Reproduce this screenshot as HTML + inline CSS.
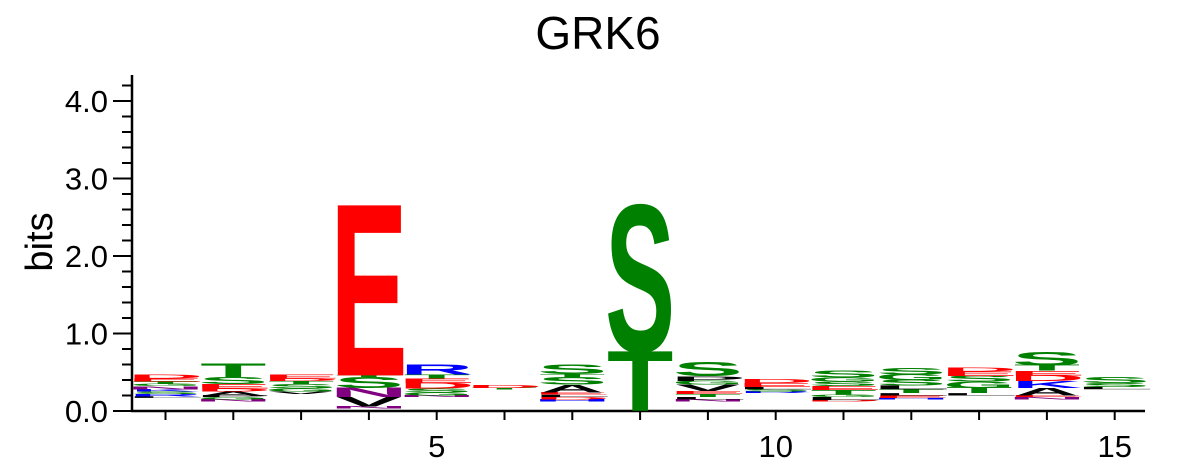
<!DOCTYPE html>
<html><head><meta charset="utf-8"><style>
html,body{margin:0;padding:0;background:#fff;}
svg{display:block;font-family:"Liberation Sans",Arial,sans-serif;}
</style></head><body>
<svg id="chart" width="1196" height="471" viewBox="0 0 1196 471">
<text x="598" y="49" font-size="46" text-anchor="middle">GRK6</text>
<text transform="translate(52,242) rotate(-90)" font-size="38" text-anchor="middle">bits</text>
<g id="axes"></g>
<g id="logo"></g>
</svg>
<script>
const positions = [1,2,3,4,5,6,7,8,9,10,11,12,13,14,15];
const minorBits = [0.17,0.12,0.22,0.03,0.18,0.28,0.12,0,0.12,0.23,0.12,0.15,0.2,0.15,0.28];
const stackLetters = [
 ["L","R","S","K","N","G","T","E","D"],
 ["N","G","P","A","D","E","S","T"],
 ["V","G","S","T","D","E"],
 ["N","V","N","S","T","E"],
 ["N","G","S","D","E","T","R"],
 ["T","D"],
 ["H","D","L","E","A","S","T","S"],
 ["T","S"],
 ["N","L","T","E","V","G","P","S"],
 ["R","S","L","E","D"],
 ["D","L","G","T","E","S","G","S"],
 ["H","E","L","T","L","S","G","S"],
 ["L","T","G","S","E","D"],
 ["N","E","A","K","D","E","T","S"],
 ["L","S","S"]
];
const stackBits = [
 [0.02,0.03,0.03,0.03,0.04,0.03,0.03,0.04,0.05],
 [0.03,0.03,0.02,0.05,0.04,0.06,0.09,0.17],
 [0.03,0.04,0.06,0.04,0.03,0.05],
 [0.03,0.12,0.12,0.14,0.02,2.20],
 [0.02,0.04,0.05,0.07,0.06,0.05,0.13],
 [0.02,0.04],
 [0.03,0.03,0.03,0.03,0.10,0.10,0.04,0.12],
 [0.77,1.88],
 [0.03,0.03,0.04,0.04,0.08,0.05,0.06,0.18],
 [0.02,0.03,0.03,0.05,0.05],
 [0.02,0.04,0.03,0.06,0.05,0.06,0.05,0.09],
 [0.02,0.03,0.03,0.05,0.05,0.07,0.07,0.08],
 [0.03,0.07,0.08,0.07,0.06,0.05],
 [0.03,0.02,0.10,0.09,0.07,0.06,0.07,0.17],
 [0.03,0.05,0.07]
];
const yTicks = [0,1,2,3,4];
const yTickLabels = ["0.0","1.0","2.0","3.0","4.0"];
const xTicks = [5,10,15];

const NS="http://www.w3.org/2000/svg";
const y0=411, pxPerBit=77.5, x1=436.7-4*67.8, dx=67.8, inkW=63;
const inkFrac={E:0.81,S:0.90,T:0.95,D:0.83,R:0.86,N:0.80,V:0.97,A:0.98,K:0.90,G:0.88,L:0.80,H:0.80,P:0.83};
const Y=v=>y0-v*pxPerBit;
const X=p=>x1+(p-1)*dx;
const colors={E:"#ff0000",D:"#ff0000",S:"#008000",T:"#008000",G:"#008000",Y:"#008000",C:"#008000",
 R:"#0000ff",K:"#0000ff",H:"#0000ff",N:"#800080",Q:"#800080"};
const col=l=>colors[l]||"#000000";
const axes=document.getElementById('axes'), logo=document.getElementById('logo');
function mk(tag,attrs,parent){const e=document.createElementNS(NS,tag);for(const k in attrs)e.setAttribute(k,attrs[k]);parent.appendChild(e);return e;}

let ln=mk('line',{x1:132,y1:75,x2:132,y2:y0,stroke:'#000','stroke-width':2.5},axes);


ln=mk('line',{x1:131,y1:y0,x2:1145,y2:y0,stroke:'#000','stroke-width':2.5},axes);


for(let v=0;v<=4.21;v+=0.2){
  const major=Math.abs(v-Math.round(v))<1e-6;
  const t=mk('line',{x1:major?113:122,y1:Y(v),x2:132,y2:Y(v),stroke:'#000','stroke-width':2},axes);
  
  
}
yTicks.forEach((v,i)=>{
  const t=mk('text',{x:108,y:Y(v)+11,'font-size':31,'text-anchor':'end'},axes);
  t.textContent=yTickLabels[i];
  
  
});
positions.forEach(p=>{
  const t=mk('line',{x1:X(p),y1:y0,x2:X(p),y2:y0+9,stroke:'#000','stroke-width':2},axes);
  
  
});
xTicks.forEach(p=>{
  const t=mk('text',{x:X(p),y:y0+46,'font-size':31,'text-anchor':'middle'},axes);
  t.textContent=String(p);
  
  
});
positions.forEach((p,i)=>{
  let acc=minorBits[i];
  const g=mk('g',{},logo);
  
  
  stackLetters[i].forEach((l,j)=>{
    const h=stackBits[i][j]*pxPerBit;
    const yb=Y(acc);
    acc+=stackBits[i][j];
    const tl=inkW/(inkFrac[l]||0.85);
    const t=mk('text',{x:0,y:0,'font-size':100,'font-weight':'bold',fill:col(l),
      textLength:tl,lengthAdjust:'spacingAndGlyphs',
      transform:`translate(${X(p)-tl/2},${yb}) scale(1,${h/69})`},g);
    t.textContent=l;
    
    
  });
});
</script>
</body></html>
